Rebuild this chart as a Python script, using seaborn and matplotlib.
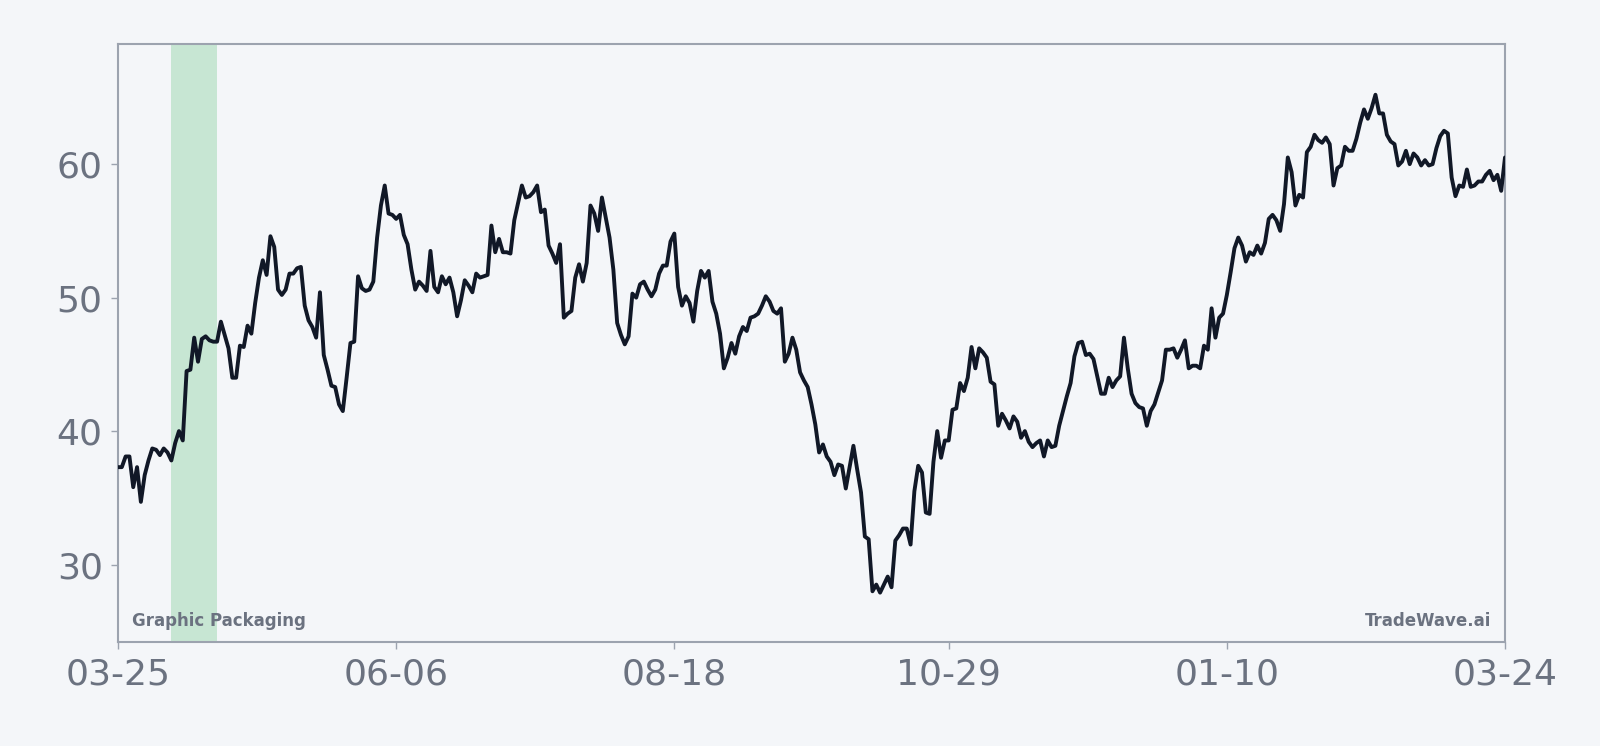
import pandas as pd
import numpy as np
import matplotlib
matplotlib.use("Agg")
import matplotlib.pyplot as plt
import seaborn as sns

# daily closes, 2022-03-25 .. 2023-03-24
start_date = "2022-03-25"
prices = [
    37.3, 37.3, 38.1, 38.1, 35.8, 37.3, 34.7, 36.7, 37.8, 38.7,
    38.6, 38.2, 38.7, 38.4, 37.8, 39.1, 40.0, 39.3, 44.5, 44.6,
    47.0, 45.2, 46.9, 47.1, 46.8, 46.7, 46.7, 48.2, 47.2, 46.2,
    44.0, 44.0, 46.4, 46.3, 47.9, 47.3, 49.6, 51.5, 52.8, 51.7,
    54.6, 53.8, 50.6, 50.2, 50.6, 51.8, 51.8, 52.2, 52.3, 49.4,
    48.3, 47.8, 47.0, 50.4, 45.7, 44.6, 43.4, 43.3, 42.0, 41.5,
    44.0, 46.6, 46.7, 51.6, 50.7, 50.5, 50.6, 51.2, 54.5, 56.9,
    58.4, 56.3, 56.2, 55.9, 56.2, 54.7, 54.0, 52.1, 50.6, 51.2,
    50.9, 50.5, 53.5, 50.8, 50.4, 51.6, 51.0, 51.5, 50.4, 48.6,
    49.8, 51.3, 50.9, 50.4, 51.8, 51.5, 51.6, 51.7, 55.4, 53.4,
    54.4, 53.4, 53.4, 53.3, 55.8, 57.1, 58.4, 57.5, 57.6, 57.9,
    58.4, 56.4, 56.6, 53.9, 53.3, 52.6, 54.0, 48.5, 48.8, 49.0,
    51.5, 52.5, 51.2, 52.6, 56.9, 56.3, 55.0, 57.5, 56.0, 54.5,
    52.1, 48.1, 47.2, 46.5, 47.1, 50.3, 50.0, 51.0, 51.2, 50.6,
    50.1, 50.6, 51.8, 52.4, 52.4, 54.2, 54.8, 50.8, 49.4, 50.1,
    49.6, 48.2, 50.5, 52.0, 51.5, 52.0, 49.7, 48.8, 47.3, 44.7,
    45.5, 46.6, 45.8, 47.1, 47.8, 47.5, 48.5, 48.6, 48.8, 49.4,
    50.1, 49.7, 49.0, 48.8, 49.2, 45.2, 45.8, 47.0, 46.1, 44.4,
    43.8, 43.3, 42.0, 40.5, 38.4, 39.0, 38.1, 37.7, 36.7, 37.5,
    37.4, 35.7, 37.3, 38.9, 37.1, 35.4, 32.1, 31.9, 28.0, 28.5,
    27.9, 28.5, 29.1, 28.3, 31.8, 32.2, 32.7, 32.7, 31.5, 35.5,
    37.4, 36.9, 33.9, 33.8, 37.7, 40.0, 38.0, 39.3, 39.3, 41.6,
    41.7, 43.6, 43.0, 44.0, 46.3, 44.7, 46.2, 45.9, 45.5, 43.7,
    43.5, 40.4, 41.3, 40.8, 40.2, 41.1, 40.7, 39.5, 40.0, 39.2,
    38.8, 39.1, 39.3, 38.1, 39.3, 38.8, 38.9, 40.4, 41.5, 42.6,
    43.6, 45.6, 46.6, 46.7, 45.7, 45.8, 45.4, 44.1, 42.8, 42.8,
    44.0, 43.3, 43.8, 44.1, 47.0, 44.7, 42.8, 42.1, 41.8, 41.7,
    40.4, 41.5, 42.0, 42.9, 43.8, 46.1, 46.1, 46.2, 45.5, 46.1,
    46.8, 44.7, 44.9, 44.9, 44.7, 46.4, 46.1, 49.2, 47.0, 48.5,
    48.8, 50.2, 51.9, 53.7, 54.5, 53.9, 52.7, 53.4, 53.2, 53.9,
    53.3, 54.1, 55.9, 56.2, 55.8, 55.0, 57.0, 60.5, 59.4, 56.9,
    57.7, 57.5, 60.9, 61.3, 62.2, 61.8, 61.6, 62.0, 61.5, 58.4,
    59.7, 59.9, 61.3, 61.0, 61.0, 61.9, 63.1, 64.1, 63.4, 64.2,
    65.2, 63.8, 63.8, 62.2, 61.7, 61.5, 59.9, 60.2, 61.0, 60.0,
    60.8, 60.5, 59.9, 60.3, 59.9, 60.0, 61.2, 62.1, 62.5, 62.3,
    59.0, 57.6, 58.4, 58.3, 59.6, 58.3, 58.4, 58.7, 58.7, 59.2,
    59.5, 58.8, 59.2, 58.0, 60.5,
]
highlight_start = "2022-04-08"
highlight_end = "2022-04-20"
y_ticks = [30, 40, 50, 60]
company = "Graphic Packaging"
brand = "TradeWave.ai"

BG = "#f4f6f9"
INK = "#111827"
MUTED = "#6b7280"
EDGE = "#9ca3af"

df = pd.DataFrame({
    "date": pd.date_range(start_date, periods=len(prices), freq="D"),
    "close": prices,
})

sns.set_style("white", {"axes.facecolor": BG, "figure.facecolor": BG,
                        "axes.edgecolor": EDGE})
plt.rcParams["font.family"] = ["DejaVu Sans"]

fig = plt.figure(figsize=(16, 7.46), dpi=100)
ax = fig.add_axes([0.07375, 0.1394, 0.866875, 0.8016])

ax.axvspan(pd.Timestamp(highlight_start), pd.Timestamp(highlight_end),
           color="#c7e6d3", lw=0, zorder=1)
sns.lineplot(data=df, x="date", y="close", ax=ax, color=INK, linewidth=2.8,
             zorder=3)

ax.set_xlim(df["date"].iloc[0], df["date"].iloc[-1])
ax.set_ylim(24.2, 69.0)

# six evenly spaced date ticks
idx = np.round(np.linspace(0, len(df) - 1, 6)).astype(int)
tick_dates = df["date"].iloc[idx]
ax.set_xticks(tick_dates)
ax.set_xticklabels([d.strftime("%m-%d") for d in tick_dates])
ax.set_yticks(y_ticks)
ax.set_yticklabels([str(v) for v in y_ticks])

ax.tick_params(axis="both", labelsize=26, colors=EDGE, labelcolor=MUTED,
               length=5, width=1, pad=6, bottom=True, left=True)
ax.set_xlabel("")
ax.set_ylabel("")
for s in ax.spines.values():
    s.set_color(EDGE)
    s.set_linewidth(1.5)

ax.text(0.01, 0.035, company, transform=ax.transAxes, fontsize=12,
        fontweight="bold", color=MUTED, ha="left", va="center")
ax.text(0.99, 0.035, brand, transform=ax.transAxes, fontsize=12,
        fontweight="bold", color=MUTED, ha="right", va="center")

fig.savefig("out.png", dpi=100, facecolor=BG)
